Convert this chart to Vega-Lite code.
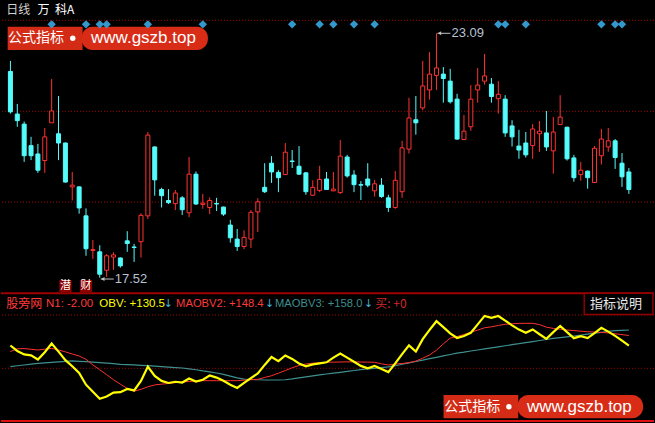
{
"$schema": "https://vega.github.io/schema/vega-lite/v6.json",
"width": 655, "height": 423,
"autosize": {"type": "fit", "contains": "padding"},
"padding": 0,
"background": "#000000",
"config": {"view": {"stroke": null}, "axis": {"disable": true}, "legend": {"disable": true}},
"data": {"values": [{}]},
"datasets": {
"k": [
{"i":0,"o":22.22,"h":22.46,"l":21.26,"c":21.30,"obv":130.9,"ma2":120.4,"ma3":94.0},
{"i":1,"o":21.25,"h":21.48,"l":20.96,"c":21.10,"obv":121.3,"ma2":125.1,"ma3":95.4},
{"i":2,"o":21.02,"h":21.08,"l":20.16,"c":20.30,"obv":115.3,"ma2":125.5,"ma3":96.8},
{"i":3,"o":20.53,"h":20.73,"l":20.20,"c":20.30,"obv":113.7,"ma2":124.3,"ma3":98.2},
{"i":4,"o":20.34,"h":20.57,"l":19.91,"c":19.97,"obv":106.4,"ma2":123.0,"ma3":99.6},
{"i":5,"o":20.19,"h":20.93,"l":19.91,"c":20.73,"obv":119.0,"ma2":124.4,"ma3":100.4},
{"i":6,"o":21.05,"h":22.05,"l":21.05,"c":21.32,"obv":134.4,"ma2":125.8,"ma3":101.3},
{"i":7,"o":20.80,"h":21.66,"l":20.20,"c":20.59,"obv":120.2,"ma2":123.0,"ma3":102.2},
{"i":8,"o":20.59,"h":20.60,"l":19.69,"c":19.70,"obv":105.2,"ma2":119.7,"ma3":103.0},
{"i":9,"o":19.59,"h":19.93,"l":19.28,"c":19.63,"obv":94.5,"ma2":116.0,"ma3":103.8},
{"i":10,"o":19.59,"h":19.60,"l":18.98,"c":19.11,"obv":82.8,"ma2":112.5,"ma3":103.2},
{"i":11,"o":18.93,"h":19.10,"l":18.02,"c":18.18,"obv":62.3,"ma2":106.7,"ma3":102.7},
{"i":12,"o":18.14,"h":18.38,"l":17.95,"c":18.16,"obv":49.9,"ma2":96.8,"ma3":101.8},
{"i":13,"o":18.11,"h":18.26,"l":17.52,"c":17.60,"obv":37.6,"ma2":88.4,"ma3":101.0},
{"i":14,"o":17.69,"h":18.06,"l":17.54,"c":18.02,"obv":41.5,"ma2":79.8,"ma3":99.9},
{"i":15,"o":17.99,"h":18.10,"l":17.70,"c":18.04,"obv":48.5,"ma2":71.0,"ma3":99.0},
{"i":16,"o":17.97,"h":17.98,"l":17.75,"c":17.79,"obv":49.2,"ma2":63.2,"ma3":98.0},
{"i":17,"o":18.36,"h":18.58,"l":18.11,"c":18.30,"obv":54.9,"ma2":55.8,"ma3":97.5},
{"i":18,"o":18.22,"h":18.29,"l":17.88,"c":18.21,"obv":52.3,"ma2":50.9,"ma3":96.8},
{"i":19,"o":18.34,"h":18.99,"l":17.98,"c":18.94,"obv":68.8,"ma2":54.2,"ma3":96.1},
{"i":20,"o":18.93,"h":20.84,"l":18.86,"c":20.77,"obv":94.0,"ma2":58.6,"ma3":95.5},
{"i":21,"o":20.50,"h":20.51,"l":19.39,"c":19.75,"obv":77.7,"ma2":61.9,"ma3":94.8},
{"i":22,"o":19.53,"h":19.57,"l":19.12,"c":19.39,"obv":68.9,"ma2":63.2,"ma3":94.0},
{"i":23,"o":19.28,"h":19.54,"l":19.20,"c":19.23,"obv":65.3,"ma2":64.4,"ma3":93.1},
{"i":24,"o":19.21,"h":19.52,"l":19.06,"c":19.45,"obv":67.4,"ma2":65.8,"ma3":92.2},
{"i":25,"o":19.34,"h":19.38,"l":18.95,"c":19.07,"obv":66.0,"ma2":67.0,"ma3":91.5},
{"i":26,"o":19.00,"h":20.27,"l":18.90,"c":19.88,"obv":73.1,"ma2":67.9,"ma3":90.1},
{"i":27,"o":19.88,"h":19.94,"l":19.18,"c":19.20,"obv":67.7,"ma2":68.8,"ma3":88.4},
{"i":28,"o":19.19,"h":19.43,"l":19.09,"c":19.22,"obv":71.0,"ma2":69.3,"ma3":86.4},
{"i":29,"o":19.12,"h":19.35,"l":18.97,"c":19.28,"obv":78.4,"ma2":69.3,"ma3":84.7},
{"i":30,"o":19.21,"h":19.34,"l":19.04,"c":19.20,"obv":74.7,"ma2":69.3,"ma3":82.8},
{"i":31,"o":19.13,"h":19.14,"l":18.93,"c":18.97,"obv":69.1,"ma2":69.3,"ma3":80.3},
{"i":32,"o":18.72,"h":18.84,"l":18.32,"c":18.43,"obv":62.3,"ma2":69.3,"ma3":77.2},
{"i":33,"o":18.40,"h":18.63,"l":18.13,"c":18.23,"obv":56.5,"ma2":69.3,"ma3":74.2},
{"i":34,"o":18.23,"h":18.60,"l":18.17,"c":18.44,"obv":65.3,"ma2":70.2,"ma3":72.1},
{"i":35,"o":18.40,"h":19.06,"l":18.20,"c":19.01,"obv":73.8,"ma2":71.0,"ma3":71.4},
{"i":36,"o":19.02,"h":19.33,"l":18.56,"c":19.25,"obv":82.1,"ma2":71.7,"ma3":70.9},
{"i":37,"o":19.58,"h":20.13,"l":19.45,"c":19.48,"obv":96.9,"ma2":74.9,"ma3":70.5},
{"i":38,"o":20.13,"h":20.29,"l":19.68,"c":19.93,"obv":110.8,"ma2":78.0,"ma3":70.5},
{"i":39,"o":19.92,"h":19.97,"l":19.47,"c":19.80,"obv":103.4,"ma2":82.4,"ma3":70.5},
{"i":40,"o":19.87,"h":20.59,"l":19.86,"c":20.38,"obv":113.4,"ma2":87.1,"ma3":70.9},
{"i":41,"o":20.18,"h":20.43,"l":20.02,"c":20.17,"obv":107.4,"ma2":91.9,"ma3":72.4},
{"i":42,"o":20.06,"h":20.52,"l":19.86,"c":19.88,"obv":99.4,"ma2":95.9,"ma3":74.2},
{"i":43,"o":19.91,"h":19.93,"l":19.41,"c":19.48,"obv":94.5,"ma2":98.5,"ma3":75.9},
{"i":44,"o":19.40,"h":19.74,"l":19.39,"c":19.58,"obv":97.8,"ma2":99.9,"ma3":77.7},
{"i":45,"o":19.51,"h":20.07,"l":19.47,"c":19.76,"obv":99.7,"ma2":100.6,"ma3":79.4},
{"i":46,"o":19.77,"h":19.93,"l":19.52,"c":19.53,"obv":101.5,"ma2":101.5,"ma3":81.0},
{"i":47,"o":19.50,"h":19.93,"l":19.49,"c":19.54,"obv":109.7,"ma2":101.8,"ma3":82.4},
{"i":48,"o":19.46,"h":20.66,"l":19.43,"c":20.29,"obv":116.7,"ma2":102.0,"ma3":84.0},
{"i":49,"o":20.27,"h":20.32,"l":19.80,"c":19.84,"obv":109.7,"ma2":102.3,"ma3":85.6},
{"i":50,"o":19.86,"h":19.97,"l":19.47,"c":19.64,"obv":102.5,"ma2":102.3,"ma3":87.1},
{"i":51,"o":19.64,"h":19.72,"l":19.29,"c":19.63,"obv":95.2,"ma2":102.0,"ma3":88.5},
{"i":52,"o":19.77,"h":20.13,"l":19.58,"c":19.63,"obv":91.1,"ma2":101.8,"ma3":89.8},
{"i":53,"o":19.50,"h":19.75,"l":19.37,"c":19.66,"obv":95.2,"ma2":101.5,"ma3":91.0},
{"i":54,"o":19.63,"h":19.79,"l":19.34,"c":19.37,"obv":89.8,"ma2":98.9,"ma3":92.2},
{"i":55,"o":19.34,"h":19.41,"l":19.02,"c":19.12,"obv":84.3,"ma2":96.8,"ma3":93.4},
{"i":56,"o":19.12,"h":19.95,"l":19.09,"c":19.74,"obv":99.6,"ma2":98.3,"ma3":95.5},
{"i":57,"o":19.48,"h":20.64,"l":19.34,"c":20.48,"obv":115.8,"ma2":99.4,"ma3":98.0},
{"i":58,"o":20.45,"h":21.62,"l":20.35,"c":21.16,"obv":131.1,"ma2":100.9,"ma3":100.4},
{"i":59,"o":21.12,"h":21.66,"l":20.78,"c":21.05,"obv":120.4,"ma2":103.6,"ma3":102.9},
{"i":60,"o":21.39,"h":22.46,"l":21.34,"c":21.89,"obv":141.9,"ma2":108.7,"ma3":105.3},
{"i":61,"o":21.80,"h":22.66,"l":21.58,"c":22.16,"obv":158.2,"ma2":114.3,"ma3":107.8},
{"i":62,"o":22.13,"h":23.09,"l":21.80,"c":22.30,"obv":173.4,"ma2":122.7,"ma3":110.2},
{"i":63,"o":22.16,"h":22.32,"l":21.51,"c":22.06,"obv":162.9,"ma2":133.7,"ma3":112.7},
{"i":64,"o":22.00,"h":22.28,"l":21.49,"c":21.53,"obv":152.2,"ma2":143.8,"ma3":115.1},
{"i":65,"o":21.59,"h":21.71,"l":20.66,"c":20.68,"obv":144.0,"ma2":146.5,"ma3":117.6},
{"i":66,"o":20.67,"h":21.23,"l":20.66,"c":20.86,"obv":147.5,"ma2":150.1,"ma3":119.3},
{"i":67,"o":20.96,"h":21.91,"l":20.87,"c":21.59,"obv":153.1,"ma2":154.0,"ma3":121.3},
{"i":68,"o":21.80,"h":22.30,"l":21.51,"c":21.91,"obv":167.8,"ma2":157.8,"ma3":123.0},
{"i":69,"o":22.00,"h":22.62,"l":21.92,"c":22.12,"obv":182.7,"ma2":161.9,"ma3":124.9},
{"i":70,"o":21.93,"h":22.07,"l":21.51,"c":21.65,"obv":179.2,"ma2":163.6,"ma3":126.7},
{"i":71,"o":21.60,"h":22.00,"l":21.26,"c":21.70,"obv":182.5,"ma2":165.9,"ma3":128.6},
{"i":72,"o":21.59,"h":21.68,"l":20.73,"c":20.82,"obv":174.5,"ma2":168.0,"ma3":130.4},
{"i":73,"o":20.98,"h":21.11,"l":20.51,"c":20.73,"obv":166.2,"ma2":168.9,"ma3":132.3},
{"i":74,"o":20.52,"h":20.89,"l":20.23,"c":20.43,"obv":158.7,"ma2":169.6,"ma3":134.0},
{"i":75,"o":20.59,"h":20.84,"l":20.26,"c":20.32,"obv":153.3,"ma2":169.7,"ma3":136.0},
{"i":76,"o":20.53,"h":21.02,"l":20.23,"c":20.91,"obv":159.0,"ma2":169.7,"ma3":137.7},
{"i":77,"o":20.80,"h":21.09,"l":20.39,"c":20.86,"obv":150.6,"ma2":167.5,"ma3":139.6},
{"i":78,"o":20.82,"h":21.32,"l":20.41,"c":20.50,"obv":142.6,"ma2":162.9,"ma3":141.4},
{"i":79,"o":20.41,"h":21.18,"l":19.89,"c":20.84,"obv":154.2,"ma2":160.8,"ma3":143.3},
{"i":80,"o":21.01,"h":21.68,"l":21.00,"c":21.18,"obv":165.2,"ma2":159.4,"ma3":144.7},
{"i":81,"o":20.95,"h":20.96,"l":20.19,"c":20.23,"obv":154.2,"ma2":158.0,"ma3":146.1},
{"i":82,"o":20.25,"h":20.32,"l":19.71,"c":19.80,"obv":143.7,"ma2":157.0,"ma3":147.5},
{"i":83,"o":19.87,"h":20.16,"l":19.73,"c":19.97,"obv":147.3,"ma2":155.9,"ma3":148.9},
{"i":84,"o":19.95,"h":19.96,"l":19.55,"c":19.80,"obv":143.8,"ma2":155.0,"ma3":150.7},
{"i":85,"o":19.69,"h":20.52,"l":19.68,"c":20.47,"obv":152.4,"ma2":154.3,"ma3":152.4},
{"i":86,"o":20.30,"h":20.91,"l":20.10,"c":20.68,"obv":161.7,"ma2":153.8,"ma3":154.0},
{"i":87,"o":20.50,"h":20.93,"l":20.39,"c":20.64,"obv":155.2,"ma2":152.9,"ma3":155.7},
{"i":88,"o":20.64,"h":20.68,"l":20.00,"c":20.26,"obv":147.7,"ma2":151.4,"ma3":157.0},
{"i":89,"o":20.13,"h":20.36,"l":19.59,"c":19.82,"obv":139.3,"ma2":149.9,"ma3":157.5},
{"i":90,"o":19.93,"h":20.02,"l":19.43,"c":19.53,"obv":130.5,"ma2":148.4,"ma3":158.0}
],
"sig": [{"i":6},{"i":11},{"i":13},{"i":14},{"i":20},{"i":28},{"i":41},{"i":45},{"i":47},{"i":50},{"i":53},{"i":71},{"i":72},{"i":75},{"i":86},{"i":88},{"i":89}],
"ext": [{"i":62,"p":23.09,"label":"23.09"},{"i":13,"p":17.49,"label":"17.52"}],
"tags": [{"i":8,"label":"潜"},{"i":11,"label":"财"}],
"pgrid": [{"lv":23.386},{"lv":21.312},{"lv":19.245}],
"igrid": [{"lv":184.25},{"lv":91.0}]
},
"resolve": {"scale": {"y": "independent"}},
"layer": [
{"data": {"name": "pgrid"}, "mark": {"type": "rule", "color": "#a00000", "strokeDash": [1, 2], "strokeWidth": 1},
 "encoding": {"y": {"field": "lv", "type": "quantitative", "scale": {"domain": [14.209, 23.849], "nice": false, "zero": false}}}},
{"data": {"name": "igrid"}, "mark": {"type": "rule", "color": "#a00000", "strokeDash": [1, 2], "strokeWidth": 1},
 "encoding": {"y": {"field": "lv", "type": "quantitative", "scale": {"domain": [-4.75, 735.5], "nice": false, "zero": false}}}},
{"mark": {"type": "rule", "color": "#a00000", "strokeWidth": 2},
 "encoding": {"y": {"datum": 17.165, "type": "quantitative", "scale": {"domain": [14.209, 23.849], "nice": false, "zero": false}}}},
{"mark": {"type": "rule", "color": "#e01010", "strokeWidth": 2},
 "encoding": {"y": {"datum": 14.254, "type": "quantitative", "scale": {"domain": [14.209, 23.849], "nice": false, "zero": false}}}},
{"data": {"name": "k"}, "mark": {"type": "rule", "strokeWidth": 1},
 "encoding": {
  "x": {"field": "i", "type": "quantitative", "scale": {"domain": [-0.6429, 92.9286], "nice": false, "zero": false}},
  "y": {"field": "l", "type": "quantitative", "scale": {"domain": [14.209, 23.849], "nice": false, "zero": false}},
  "y2": {"field": "h"},
  "color": {"condition": {"test": "datum.c >= datum.o", "value": "#ff3232"}, "value": "#54fcfc"}}},
{"data": {"name": "k"}, "mark": {"type": "bar", "size": 4, "strokeWidth": 1, "orient": "vertical"},
 "encoding": {
  "x": {"field": "i", "type": "quantitative", "scale": {"domain": [-0.6429, 92.9286], "nice": false, "zero": false}},
  "y": {"field": "o", "type": "quantitative", "scale": {"domain": [14.209, 23.849], "nice": false, "zero": false}},
  "y2": {"field": "c"},
  "fill": {"condition": {"test": "datum.c >= datum.o", "value": "#000000"}, "value": "#54fcfc"},
  "stroke": {"condition": {"test": "datum.c >= datum.o", "value": "#ff3232"}, "value": "#54fcfc"}}},
{"data": {"name": "k"}, "mark": {"type": "line", "color": "#3f8f8f", "strokeWidth": 1.2},
 "encoding": {
  "x": {"field": "i", "type": "quantitative", "scale": {"domain": [-0.6429, 92.9286], "nice": false, "zero": false}},
  "y": {"field": "ma3", "type": "quantitative", "scale": {"domain": [-4.75, 735.5], "nice": false, "zero": false}}}},
{"data": {"name": "k"}, "mark": {"type": "line", "color": "#ff3030", "strokeWidth": 1},
 "encoding": {
  "x": {"field": "i", "type": "quantitative", "scale": {"domain": [-0.6429, 92.9286], "nice": false, "zero": false}},
  "y": {"field": "ma2", "type": "quantitative", "scale": {"domain": [-4.75, 735.5], "nice": false, "zero": false}}}},
{"data": {"name": "k"}, "mark": {"type": "line", "color": "#ffff00", "strokeWidth": 2.2},
 "encoding": {
  "x": {"field": "i", "type": "quantitative", "scale": {"domain": [-0.6429, 92.9286], "nice": false, "zero": false}},
  "y": {"field": "obv", "type": "quantitative", "scale": {"domain": [-4.75, 735.5], "nice": false, "zero": false}}}},
{"mark": {"type": "rect", "fill": "#000000", "stroke": "#900000", "strokeWidth": 1.5},
 "encoding": {
  "x": {"datum": 83.5, "type": "quantitative", "scale": {"domain": [-0.6429, 92.9286], "nice": false, "zero": false}},
  "x2": {"datum": 93.5},
  "y": {"datum": 17.165, "type": "quantitative", "scale": {"domain": [14.209, 23.849], "nice": false, "zero": false}},
  "y2": {"datum": 16.682}}},
{"mark": {"type": "text", "align": "center", "baseline": "middle", "fontSize": 13, "font": "Noto Sans CJK SC", "color": "#e8e8e8"},
 "encoding": {
  "x": {"datum": 88.14, "type": "quantitative", "scale": {"domain": [-0.6429, 92.9286], "nice": false, "zero": false}},
  "y": {"datum": 16.921, "type": "quantitative", "scale": {"domain": [14.209, 23.849], "nice": false, "zero": false}},
  "text": {"value": "指标说明"}}},
{"mark": {"type": "text", "align": "left", "baseline": "middle", "fontSize": 12, "font": "Noto Sans CJK SC", "color": "#ff3a3a"},
 "encoding": {
  "x": {"datum": -0.6, "type": "quantitative", "scale": {"domain": [-0.6429, 92.9286], "nice": false, "zero": false}},
  "y": {"datum": 16.92, "type": "quantitative", "scale": {"domain": [14.209, 23.849], "nice": false, "zero": false}},
  "text": {"value": "股旁网"}}},
{"mark": {"type": "text", "align": "left", "baseline": "middle", "fontSize": 11.5, "font": "Liberation Sans", "color": "#ff3a3a"},
 "encoding": {
  "x": {"datum": 5.17, "type": "quantitative", "scale": {"domain": [-0.6429, 92.9286], "nice": false, "zero": false}},
  "y": {"datum": 16.92, "type": "quantitative", "scale": {"domain": [14.209, 23.849], "nice": false, "zero": false}},
  "text": {"value": "N1: -2.00"}}},
{"mark": {"type": "text", "align": "left", "baseline": "middle", "fontSize": 11.5, "font": "Liberation Sans", "color": "#ffff00"},
 "encoding": {
  "x": {"datum": 12.93, "type": "quantitative", "scale": {"domain": [-0.6429, 92.9286], "nice": false, "zero": false}},
  "y": {"datum": 16.92, "type": "quantitative", "scale": {"domain": [14.209, 23.849], "nice": false, "zero": false}},
  "text": {"value": "OBV: +130.5"}}},
{"mark": {"type": "text", "align": "left", "baseline": "middle", "fontSize": 11.2, "font": "Liberation Sans", "color": "#ff3a3a"},
 "encoding": {
  "x": {"datum": 24.11, "type": "quantitative", "scale": {"domain": [-0.6429, 92.9286], "nice": false, "zero": false}},
  "y": {"datum": 16.92, "type": "quantitative", "scale": {"domain": [14.209, 23.849], "nice": false, "zero": false}},
  "text": {"value": "MAOBV2: +148.4"}}},
{"mark": {"type": "text", "align": "left", "baseline": "middle", "fontSize": 11.2, "font": "Liberation Sans", "color": "#3f8f8f"},
 "encoding": {
  "x": {"datum": 38.5, "type": "quantitative", "scale": {"domain": [-0.6429, 92.9286], "nice": false, "zero": false}},
  "y": {"datum": 16.92, "type": "quantitative", "scale": {"domain": [14.209, 23.849], "nice": false, "zero": false}},
  "text": {"value": "MAOBV3: +158.0"}}},
{"mark": {"type": "text", "align": "left", "baseline": "middle", "fontSize": 12, "font": "Noto Sans CJK SC", "color": "#d02828"},
 "encoding": {
  "x": {"datum": 53.1, "type": "quantitative", "scale": {"domain": [-0.6429, 92.9286], "nice": false, "zero": false}},
  "y": {"datum": 16.92, "type": "quantitative", "scale": {"domain": [14.209, 23.849], "nice": false, "zero": false}},
  "text": {"value": "买: +0"}}},
{"mark": {"type": "text", "align": "center", "baseline": "middle", "fontSize": 11, "font": "DejaVu Sans", "color": "#40b0d8"},
 "encoding": {
  "x": {"datum": 23.0, "type": "quantitative", "scale": {"domain": [-0.6429, 92.9286], "nice": false, "zero": false}},
  "y": {"datum": 16.92, "type": "quantitative", "scale": {"domain": [14.209, 23.849], "nice": false, "zero": false}},
  "text": {"value": "↓"}}},
{"mark": {"type": "text", "align": "center", "baseline": "middle", "fontSize": 11, "font": "DejaVu Sans", "color": "#40b0d8"},
 "encoding": {
  "x": {"datum": 37.72, "type": "quantitative", "scale": {"domain": [-0.6429, 92.9286], "nice": false, "zero": false}},
  "y": {"datum": 16.92, "type": "quantitative", "scale": {"domain": [14.209, 23.849], "nice": false, "zero": false}},
  "text": {"value": "↓"}}},
{"mark": {"type": "text", "align": "center", "baseline": "middle", "fontSize": 11, "font": "DejaVu Sans", "color": "#40b0d8"},
 "encoding": {
  "x": {"datum": 52.12, "type": "quantitative", "scale": {"domain": [-0.6429, 92.9286], "nice": false, "zero": false}},
  "y": {"datum": 16.92, "type": "quantitative", "scale": {"domain": [14.209, 23.849], "nice": false, "zero": false}},
  "text": {"value": "↓"}}},
{"mark": {"type": "text", "align": "left", "baseline": "middle", "fontSize": 12, "font": "Noto Sans CJK SC", "color": "#d0d0d0"},
 "encoding": {
  "x": {"datum": -0.6, "type": "quantitative", "scale": {"domain": [-0.6429, 92.9286], "nice": false, "zero": false}},
  "y": {"datum": 23.62, "type": "quantitative", "scale": {"domain": [14.209, 23.849], "nice": false, "zero": false}},
  "text": {"value": "日线"}}},
{"mark": {"type": "text", "align": "left", "baseline": "middle", "fontSize": 12, "font": "Noto Sans CJK SC", "color": "#ffffff"},
 "encoding": {
  "x": {"datum": 3.93, "type": "quantitative", "scale": {"domain": [-0.6429, 92.9286], "nice": false, "zero": false}},
  "y": {"datum": 23.62, "type": "quantitative", "scale": {"domain": [14.209, 23.849], "nice": false, "zero": false}},
  "text": {"value": "万"}}},
{"mark": {"type": "text", "align": "left", "baseline": "middle", "fontSize": 12, "font": "Noto Sans CJK SC", "color": "#ffffff"},
 "encoding": {
  "x": {"datum": 6.5, "type": "quantitative", "scale": {"domain": [-0.6429, 92.9286], "nice": false, "zero": false}},
  "y": {"datum": 23.62, "type": "quantitative", "scale": {"domain": [14.209, 23.849], "nice": false, "zero": false}},
  "text": {"value": "科A"}}},
{"mark": {"type": "rect", "fill": "#d42b16"},
 "encoding": {
  "x": {"datum": -0.4, "type": "quantitative", "scale": {"domain": [-0.6429, 92.9286], "nice": false, "zero": false}},
  "x2": {"datum": 10.5},
  "y": {"datum": 23.24, "type": "quantitative", "scale": {"domain": [14.209, 23.849], "nice": false, "zero": false}},
  "y2": {"datum": 22.71}}},
{"mark": {"type": "rect", "fill": "#d92c17", "cornerRadius": 11},
 "encoding": {
  "x": {"datum": 10.36, "type": "quantitative", "scale": {"domain": [-0.6429, 92.9286], "nice": false, "zero": false}},
  "x2": {"datum": 28.74},
  "y": {"datum": 23.24, "type": "quantitative", "scale": {"domain": [14.209, 23.849], "nice": false, "zero": false}},
  "y2": {"datum": 22.71}}},
{"mark": {"type": "text", "align": "center", "baseline": "middle", "fontSize": 14, "font": "Noto Sans CJK SC", "color": "#ffffff"},
 "encoding": {
  "x": {"datum": 3.71, "type": "quantitative", "scale": {"domain": [-0.6429, 92.9286], "nice": false, "zero": false}},
  "y": {"datum": 22.976, "type": "quantitative", "scale": {"domain": [14.209, 23.849], "nice": false, "zero": false}},
  "text": {"value": "公式指标"}}},
{"mark": {"type": "point", "shape": "circle", "filled": true, "size": 30, "color": "#ffffff", "opacity": 1},
 "encoding": {
  "x": {"datum": 9.07, "type": "quantitative", "scale": {"domain": [-0.6429, 92.9286], "nice": false, "zero": false}},
  "y": {"datum": 22.976, "type": "quantitative", "scale": {"domain": [14.209, 23.849], "nice": false, "zero": false}}}},
{"mark": {"type": "text", "align": "center", "baseline": "middle", "fontSize": 17, "font": "Liberation Sans", "color": "#ffffff"},
 "encoding": {
  "x": {"datum": 19.36, "type": "quantitative", "scale": {"domain": [-0.6429, 92.9286], "nice": false, "zero": false}},
  "y": {"datum": 22.976, "type": "quantitative", "scale": {"domain": [14.209, 23.849], "nice": false, "zero": false}},
  "text": {"value": "www.gszb.top"}}},
{"mark": {"type": "rect", "fill": "#d42b16"},
 "encoding": {
  "x": {"datum": 63.03, "type": "quantitative", "scale": {"domain": [-0.6429, 92.9286], "nice": false, "zero": false}},
  "x2": {"datum": 73.9},
  "y": {"datum": 14.847, "type": "quantitative", "scale": {"domain": [14.209, 23.849], "nice": false, "zero": false}},
  "y2": {"datum": 14.316}}},
{"mark": {"type": "rect", "fill": "#d92c17", "cornerRadius": 11},
 "encoding": {
  "x": {"datum": 73.79, "type": "quantitative", "scale": {"domain": [-0.6429, 92.9286], "nice": false, "zero": false}},
  "x2": {"datum": 92.07},
  "y": {"datum": 14.847, "type": "quantitative", "scale": {"domain": [14.209, 23.849], "nice": false, "zero": false}},
  "y2": {"datum": 14.316}}},
{"mark": {"type": "text", "align": "center", "baseline": "middle", "fontSize": 14, "font": "Noto Sans CJK SC", "color": "#ffffff"},
 "encoding": {
  "x": {"datum": 67.21, "type": "quantitative", "scale": {"domain": [-0.6429, 92.9286], "nice": false, "zero": false}},
  "y": {"datum": 14.58, "type": "quantitative", "scale": {"domain": [14.209, 23.849], "nice": false, "zero": false}},
  "text": {"value": "公式指标"}}},
{"mark": {"type": "point", "shape": "circle", "filled": true, "size": 30, "color": "#ffffff", "opacity": 1},
 "encoding": {
  "x": {"datum": 72.54, "type": "quantitative", "scale": {"domain": [-0.6429, 92.9286], "nice": false, "zero": false}},
  "y": {"datum": 14.58, "type": "quantitative", "scale": {"domain": [14.209, 23.849], "nice": false, "zero": false}}}},
{"mark": {"type": "text", "align": "center", "baseline": "middle", "fontSize": 17, "font": "Liberation Sans", "color": "#ffffff"},
 "encoding": {
  "x": {"datum": 82.79, "type": "quantitative", "scale": {"domain": [-0.6429, 92.9286], "nice": false, "zero": false}},
  "y": {"datum": 14.58, "type": "quantitative", "scale": {"domain": [14.209, 23.849], "nice": false, "zero": false}},
  "text": {"value": "www.gszb.top"}}},
{"data": {"name": "sig"}, "mark": {"type": "point", "shape": "diamond", "filled": true, "size": 70, "color": "#3399cc", "opacity": 1},
 "encoding": {
  "x": {"field": "i", "type": "quantitative", "scale": {"domain": [-0.6429, 92.9286], "nice": false, "zero": false}},
  "y": {"datum": 23.295, "type": "quantitative", "scale": {"domain": [14.209, 23.849], "nice": false, "zero": false}}}},
{"data": {"name": "ext"}, "mark": {"type": "rule", "color": "#c0c0c0", "strokeWidth": 1, "xOffset": 1, "x2Offset": 14},
 "encoding": {
  "x": {"field": "i", "type": "quantitative", "scale": {"domain": [-0.6429, 92.9286], "nice": false, "zero": false}},
  "x2": {"field": "i"},
  "y": {"field": "p", "type": "quantitative", "scale": {"domain": [14.209, 23.849], "nice": false, "zero": false}}}},
{"data": {"name": "ext"}, "mark": {"type": "point", "shape": "triangle-left", "filled": true, "size": 16, "color": "#c0c0c0", "opacity": 1, "xOffset": 3},
 "encoding": {
  "x": {"field": "i", "type": "quantitative", "scale": {"domain": [-0.6429, 92.9286], "nice": false, "zero": false}},
  "y": {"field": "p", "type": "quantitative", "scale": {"domain": [14.209, 23.849], "nice": false, "zero": false}}}},
{"data": {"name": "ext"}, "mark": {"type": "text", "align": "left", "baseline": "middle", "fontSize": 13, "font": "Liberation Sans", "color": "#b8c2d2", "dx": 15},
 "encoding": {
  "x": {"field": "i", "type": "quantitative", "scale": {"domain": [-0.6429, 92.9286], "nice": false, "zero": false}},
  "y": {"field": "p", "type": "quantitative", "scale": {"domain": [14.209, 23.849], "nice": false, "zero": false}},
  "text": {"field": "label"}}},
{"data": {"name": "tags"}, "mark": {"type": "point", "shape": "square", "filled": true, "size": 150, "color": "#8b0000", "opacity": 1},
 "encoding": {
  "x": {"field": "i", "type": "quantitative", "scale": {"domain": [-0.6429, 92.9286], "nice": false, "zero": false}},
  "y": {"datum": 17.33, "type": "quantitative", "scale": {"domain": [14.209, 23.849], "nice": false, "zero": false}}}},
{"data": {"name": "tags"}, "mark": {"type": "text", "align": "center", "baseline": "middle", "fontSize": 11, "font": "Noto Sans CJK SC", "color": "#ffffff"},
 "encoding": {
  "x": {"field": "i", "type": "quantitative", "scale": {"domain": [-0.6429, 92.9286], "nice": false, "zero": false}},
  "y": {"datum": 17.33, "type": "quantitative", "scale": {"domain": [14.209, 23.849], "nice": false, "zero": false}},
  "text": {"field": "label"}}}
]
}
